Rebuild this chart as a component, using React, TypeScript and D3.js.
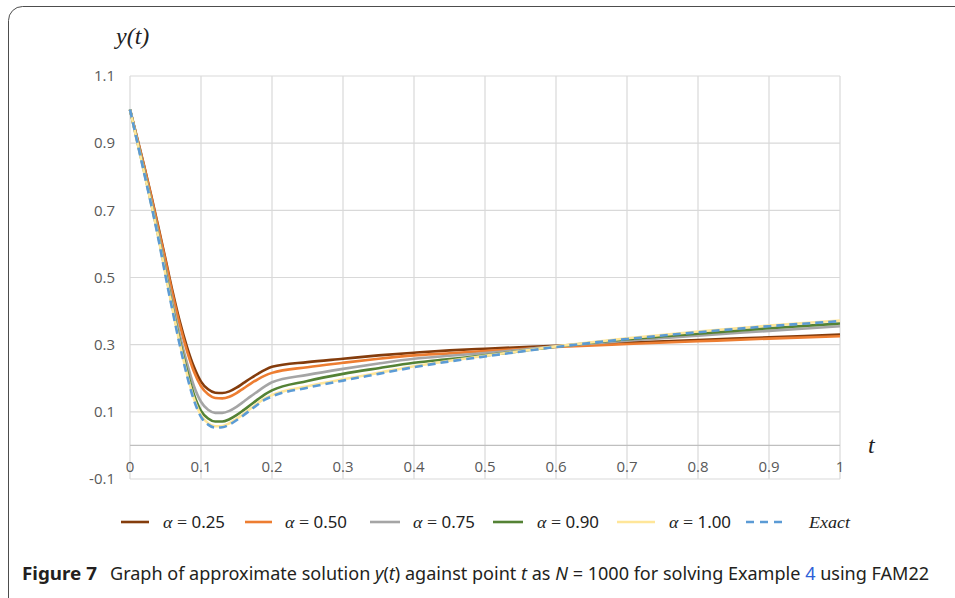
import React, { useEffect, useRef } from 'react';
import * as d3 from 'd3';

const tValues = [0, 0.01, 0.02, 0.03, 0.04, 0.05, 0.06, 0.07, 0.08, 0.09, 0.1, 0.11, 0.12, 0.13, 0.14, 0.15, 0.16, 0.17, 0.18, 0.19, 0.2, 0.25, 0.3, 0.35, 0.4, 0.45, 0.5, 0.6, 0.7, 0.8, 0.9, 1.0];

const alpha025 = [1.0, 0.916, 0.832, 0.743, 0.65, 0.555, 0.458, 0.37, 0.295, 0.234, 0.19, 0.167, 0.157, 0.156, 0.161, 0.172, 0.186, 0.2, 0.213, 0.225, 0.234, 0.248, 0.258, 0.268, 0.276, 0.283, 0.288, 0.297, 0.306, 0.314, 0.322, 0.33];
const alpha050 = [1.0, 0.915, 0.83, 0.74, 0.645, 0.55, 0.45, 0.36, 0.283, 0.22, 0.176, 0.152, 0.141, 0.14, 0.145, 0.156, 0.17, 0.184, 0.197, 0.208, 0.216, 0.233, 0.246, 0.258, 0.268, 0.274, 0.281, 0.293, 0.302, 0.31, 0.318, 0.325];
const alpha075 = [1.0, 0.91, 0.82, 0.727, 0.63, 0.527, 0.425, 0.33, 0.247, 0.177, 0.13, 0.106, 0.097, 0.097, 0.103, 0.115, 0.13, 0.146, 0.161, 0.176, 0.188, 0.21, 0.228, 0.244, 0.258, 0.267, 0.275, 0.295, 0.312, 0.327, 0.341, 0.355];
const alpha090 = [1.0, 0.907, 0.815, 0.72, 0.622, 0.515, 0.41, 0.312, 0.225, 0.152, 0.103, 0.08, 0.071, 0.071, 0.078, 0.09, 0.105, 0.121, 0.137, 0.152, 0.164, 0.192, 0.213, 0.23, 0.246, 0.257, 0.268, 0.294, 0.316, 0.333, 0.349, 0.363];
const alpha100 = [1.0, 0.906, 0.812, 0.718, 0.619, 0.51, 0.405, 0.305, 0.215, 0.14, 0.09, 0.066, 0.057, 0.058, 0.066, 0.079, 0.094, 0.11, 0.126, 0.14, 0.15, 0.176, 0.197, 0.216, 0.236, 0.252, 0.267, 0.295, 0.319, 0.339, 0.357, 0.372];
const exact = [1.0, 0.905, 0.81, 0.715, 0.615, 0.505, 0.4, 0.3, 0.21, 0.135, 0.085, 0.062, 0.053, 0.054, 0.062, 0.075, 0.09, 0.106, 0.122, 0.136, 0.146, 0.172, 0.193, 0.213, 0.233, 0.25, 0.265, 0.293, 0.317, 0.337, 0.355, 0.37];

const seriesLabels = ['0.25', '0.50', '0.75', '0.90', '1.00', 'Exact'];
const seriesColors = ['#843C0C', '#ED7D31', '#A5A5A5', '#548235', '#FFE699', '#5B9BD5'];

const xTicks = [0, 0.1, 0.2, 0.3, 0.4, 0.5, 0.6, 0.7, 0.8, 0.9, 1];
const xTickLabels = ['0', '0.1', '0.2', '0.3', '0.4', '0.5', '0.6', '0.7', '0.8', '0.9', '1'];
const yTicks = [-0.1, 0.1, 0.3, 0.5, 0.7, 0.9, 1.1];
const yTickLabels = ['-0.1', '0.1', '0.3', '0.5', '0.7', '0.9', '1.1'];

export default function App() {
  const capRef = useRef<SVGTextElement>(null);
  const figRef = useRef<SVGTextElement>(null);

  useEffect(() => {
    const fit = (el: SVGTextElement | null, x0: number, target: number) => {
      if (!el) return;
      const w = el.getComputedTextLength();
      if (w > 0) {
        el.setAttribute('transform', `translate(${x0},0) scale(${target / w},1) translate(${-x0},0)`);
      }
    };
    fit(figRef.current, 22, 75);
    fit(capRef.current, 110, 820);
  }, []);

  const x = d3.scaleLinear().domain([0, 1]).range([130, 840]);
  const y = d3.scaleLinear().domain([-0.1, 1.1]).range([479, 76]);
  const series = [alpha025, alpha050, alpha075, alpha090, alpha100, exact];
  const line = d3
    .line<number>()
    .x((_, i) => x(tValues[i]))
    .y((d) => y(d))
    .curve(d3.curveMonotoneX);

  const legendLineX = [121, 245, 370, 493, 617, 746];
  const legendLineW = [28, 27, 30, 30, 38, 39];
  const legendTextX = [163, 285, 413, 537, 669, 809];
  const legendY = 522;

  return (
    <svg width={955} height={598} style={{ position: 'absolute', left: 0, top: 0, background: '#fff' }}>
      <rect x={8.5} y={6.5} width={970} height={620} rx={14} fill="#fff" stroke="#4d4d4d" strokeWidth={1} />
      {/* grid */}
      {xTicks.map((t) => (
        <line key={'vx' + t} x1={x(t)} x2={x(t)} y1={y(1.1)} y2={y(-0.1)} stroke="#D9D9D9" strokeWidth={1.2} />
      ))}
      {yTicks.map((v) => (
        <line key={'hy' + v} x1={x(0)} x2={x(1)} y1={y(v)} y2={y(v)} stroke="#D9D9D9" strokeWidth={1.2} />
      ))}
      <line x1={x(0)} x2={x(1)} y1={y(0)} y2={y(0)} stroke="#BFBFBF" strokeWidth={1.3} />
      {/* tick labels */}
      {yTicks.map((v, i) => (
        <text key={'yl' + v} x={115} y={y(v)} dy="0.35em" textAnchor="end" fontFamily="'Open Sans', sans-serif" fontSize={15} fill="#595959">
          {yTickLabels[i]}
        </text>
      ))}
      {xTicks.map((t, i) => (
        <text key={'xl' + t} x={x(t)} y={467} dy="0.35em" textAnchor="middle" fontFamily="'Open Sans', sans-serif" fontSize={15} fill="#595959">
          {xTickLabels[i]}
        </text>
      ))}
      {/* axis titles */}
      <text x={116} y={44} fontFamily="'Liberation Serif', serif" fontStyle="italic" fontSize={24} fill="#222">
        y(t)
      </text>
      <text x={868} y={453} fontFamily="'Liberation Serif', serif" fontStyle="italic" fontSize={24} fill="#222">
        t
      </text>
      {/* series */}
      {series.map((s, i) => (
        <path
          key={'s' + i}
          d={line(s) || ''}
          fill="none"
          stroke={seriesColors[i]}
          strokeWidth={2.6}
          strokeDasharray={i === 5 ? '8,5' : undefined}
          strokeLinejoin="round"
        />
      ))}
      {/* legend */}
      {seriesLabels.map((lab, i) => (
        <g key={'lg' + i}>
          <line
            x1={legendLineX[i]}
            x2={legendLineX[i] + legendLineW[i]}
            y1={legendY}
            y2={legendY}
            stroke={seriesColors[i]}
            strokeWidth={2.6}
            strokeDasharray={i === 5 ? '8,6' : undefined}
          />
          {i < 5 ? (
            <text x={legendTextX[i]} y={legendY} dy="0.35em" fontFamily="'Liberation Serif', serif" fontSize={17} fill="#222" textLength={62} lengthAdjust="spacingAndGlyphs">
              <tspan fontStyle="italic">α</tspan>
              <tspan> = </tspan>
              <tspan fontFamily="'Noto Sans', sans-serif" fontSize={16}>{lab}</tspan>
            </text>
          ) : (
            <text x={legendTextX[i]} y={legendY} dy="0.35em" fontFamily="'Liberation Serif', serif" fontStyle="italic" fontSize={17} fill="#222" textLength={41} lengthAdjust="spacingAndGlyphs">
              {lab}
            </text>
          )}
        </g>
      ))}
      {/* caption */}
      <text ref={figRef} x={22} y={580} fontFamily="'Noto Sans', sans-serif" fontWeight="bold" fontSize={18.5} fill="#231f20">
        Figure 7
      </text>
      <text ref={capRef} x={110} y={580} fontFamily="'Noto Sans', sans-serif" fontSize={18.5} fill="#231f20">
        Graph of approximate solution <tspan fontStyle="italic">y</tspan>(<tspan fontStyle="italic">t</tspan>) against point <tspan fontStyle="italic">t</tspan> as <tspan fontStyle="italic">N</tspan> = 1000 for solving Example <tspan fill="#2E5FD8">4</tspan> using FAM22
      </text>
    </svg>
  );
}
